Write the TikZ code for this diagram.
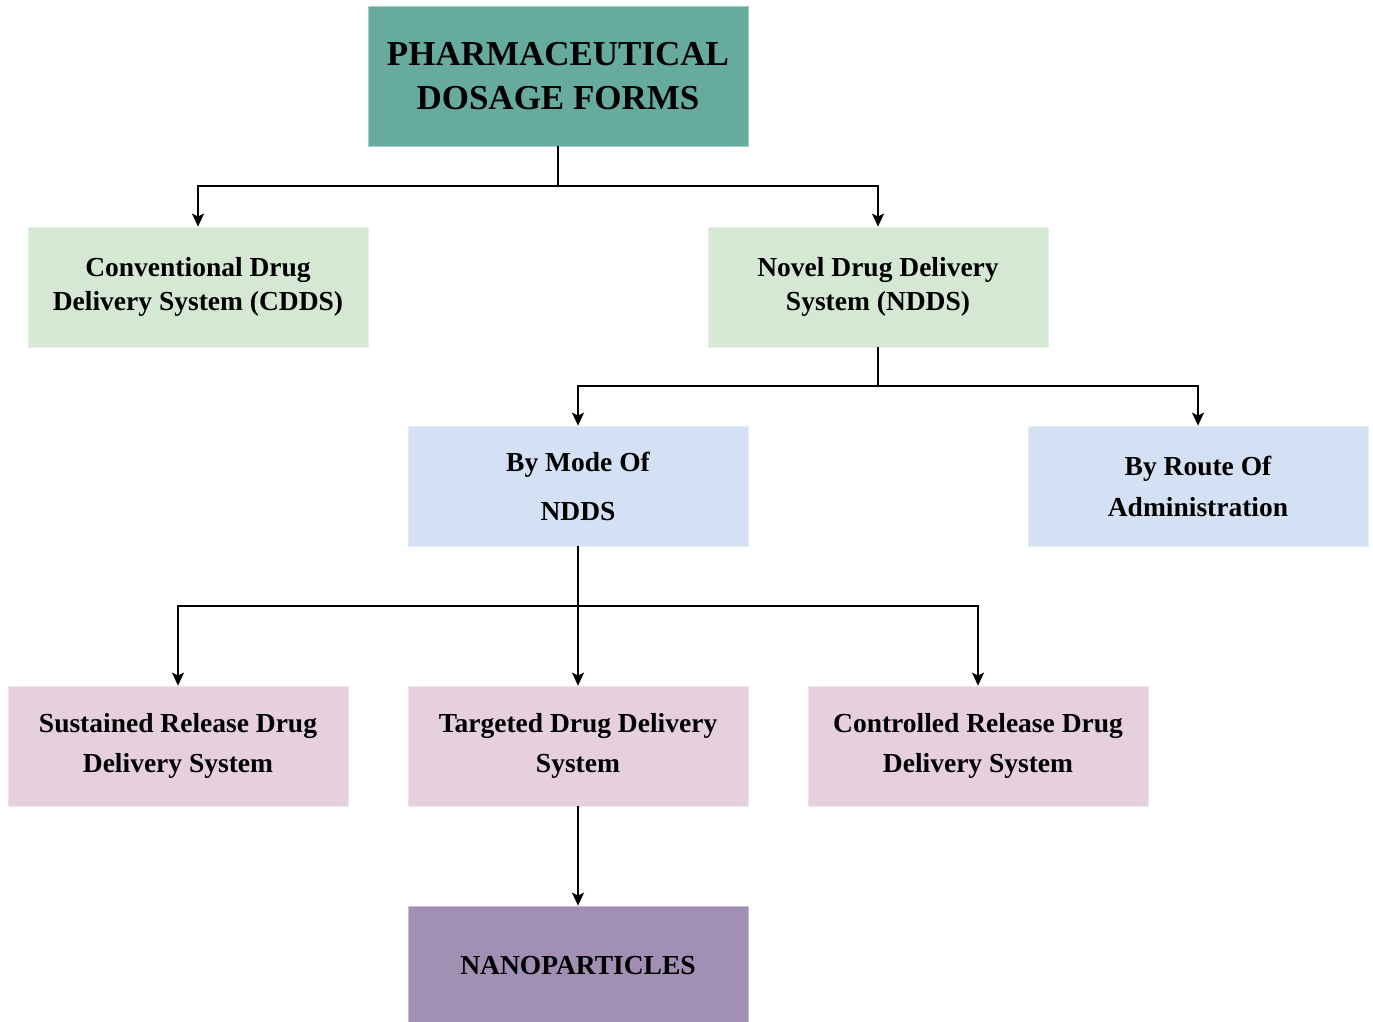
\documentclass[tikz,border=0pt]{standalone}
\usepackage{fontspec}
\setmainfont{Liberation Serif}
\usetikzlibrary{arrows.meta}
\definecolor{cTitle}{HTML}{67AB9F}
\definecolor{cGreen}{HTML}{D5E8D4}
\definecolor{cBlue}{HTML}{D4E1F5}
\definecolor{cPink}{HTML}{E6D0DE}
\definecolor{cPurple}{HTML}{A18FB4}
\begin{document}
\begin{tikzpicture}[x=1pt,y=-1pt,
  box/.style={minimum width=340pt, minimum height=120pt, inner sep=0pt, align=center,
    draw=#1!60!white, fill=#1, line width=0.8pt},
  fs/.style={font=\bfseries\fontsize{27.5}{#1}\selectfont},
  arr/.style={line width=1.6pt, -{Stealth[length=13pt,width=12pt,inset=3pt]}},
  ln/.style={line width=1.6pt}]
\useasboundingbox (0,0) rectangle (1373,1021);
\node[box=cTitle, minimum width=380pt, minimum height=140pt, font=\bfseries\fontsize{35}{44}\selectfont] (title) at (558,76) {PHARMACEUTICAL\\DOSAGE FORMS};
\node[box=cGreen, fs=34] (cdds) at (198,287) {Conventional Drug\\Delivery System (CDDS)};
\node[box=cGreen, fs=34] (ndds) at (878,287) {Novel Drug Delivery\\System (NDDS)};
\node[box=cBlue, fs=49] (mode) at (578,486) {By Mode Of\\NDDS};
\node[box=cBlue, fs=41] (route) at (1198,486) {By Route Of\\Administration};
\node[box=cPink, fs=40] (sust) at (178,746) {Sustained Release Drug\\Delivery System};
\node[box=cPink, fs=40] (targ) at (578,746) {Targeted Drug Delivery\\System};
\node[box=cPink, fs=40] (ctrl) at (978,746) {Controlled Release Drug\\Delivery System};
\node[box=cPurple, fs=34] (nano) at (578,966) {NANOPARTICLES};
\coordinate (j1) at (558,186);
\coordinate (j2) at (878,386);
\coordinate (j3) at (578,606);
\draw[ln] (title.south) -- (j1);
\draw[arr] (j1) -| (cdds.north);
\draw[arr] (j1) -| (ndds.north);
\draw[ln] (ndds.south) -- (j2);
\draw[arr] (j2) -| (mode.north);
\draw[arr] (j2) -| (route.north);
\draw[ln] (mode.south) -- (j3);
\draw[arr] (j3) -| (sust.north);
\draw[arr] (mode.south) -- (targ.north);
\draw[arr] (j3) -| (ctrl.north);
\draw[arr] (targ.south) -- (nano.north);
\end{tikzpicture}
\end{document}
